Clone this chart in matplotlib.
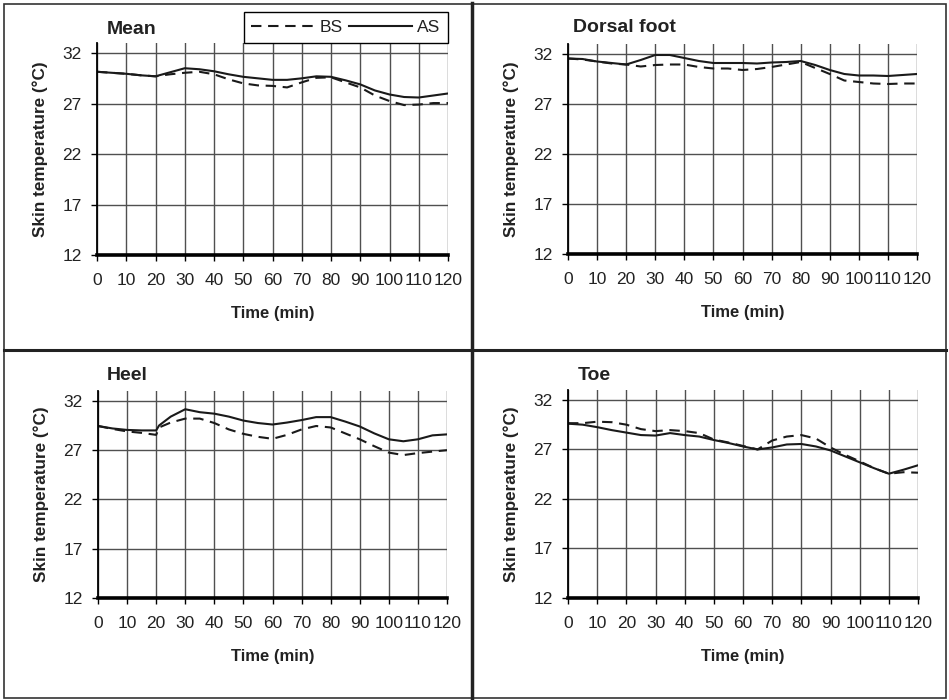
import matplotlib
matplotlib.use("Agg")
import matplotlib.pyplot as plt
from matplotlib.lines import Line2D
from matplotlib.patches import Rectangle

plt.rcParams['font.family'] = ['Liberation Sans', 'DejaVu Sans']

# ---------------- data ----------------
time = [0, 5, 10, 15, 20, 25, 30, 35, 40, 45, 50, 55, 60, 65, 70, 75, 80, 85, 90, 95, 100, 105, 110, 115, 120]
time_heel = [0, 5, 10, 15, 20, 21, 25, 30, 35, 40, 45, 50, 55, 60, 65, 70, 75, 80, 85, 90, 95, 100, 105, 110, 115, 120]

mean_as = [30.15, 30.05, 29.95, 29.8, 29.7, 30.1, 30.5, 30.4, 30.2, 29.9, 29.65, 29.5, 29.35, 29.35, 29.5, 29.7, 29.65, 29.3, 28.9, 28.3, 27.9, 27.65, 27.6, 27.8, 28.0]
mean_bs = [30.15, 30.05, 29.95, 29.8, 29.7, 29.9, 30.05, 30.15, 29.9, 29.4, 29.0, 28.8, 28.75, 28.6, 29.1, 29.55, 29.6, 29.1, 28.6, 27.8, 27.25, 26.85, 26.9, 27.05, 27.05]

dorsal_as = [31.55, 31.5, 31.25, 31.1, 30.95, 31.4, 31.9, 31.9, 31.6, 31.3, 31.1, 31.1, 31.1, 31.05, 31.15, 31.2, 31.3, 30.9, 30.4, 30.0, 29.85, 29.85, 29.8, 29.9, 30.0]
dorsal_bs = [31.55, 31.45, 31.25, 31.05, 30.95, 30.75, 30.9, 30.95, 30.95, 30.7, 30.55, 30.55, 30.4, 30.5, 30.7, 30.95, 31.2, 30.6, 30.0, 29.35, 29.2, 29.05, 29.0, 29.05, 29.05]

heel_as = [29.45, 29.2, 29.05, 29.0, 29.0, 29.5, 30.4, 31.15, 30.85, 30.7, 30.4, 30.0, 29.75, 29.6, 29.8, 30.05, 30.35, 30.35, 29.9, 29.4, 28.7, 28.1, 27.9, 28.1, 28.5, 28.6]
heel_bs = [29.45, 29.15, 28.9, 28.75, 28.55, 29.3, 29.8, 30.2, 30.2, 29.75, 29.1, 28.65, 28.35, 28.15, 28.55, 29.1, 29.45, 29.3, 28.7, 28.1, 27.4, 26.75, 26.5, 26.7, 26.85, 27.0]

toe_as = [29.6, 29.5, 29.25, 28.95, 28.7, 28.45, 28.4, 28.65, 28.45, 28.3, 27.95, 27.65, 27.3, 27.0, 27.2, 27.5, 27.55, 27.3, 26.9, 26.3, 25.7, 25.1, 24.55, 24.95, 25.4]
toe_bs = [29.65, 29.65, 29.8, 29.75, 29.5, 29.05, 28.85, 28.95, 28.85, 28.65, 28.0, 27.7, 27.35, 27.0, 27.9, 28.3, 28.45, 28.1, 27.2, 26.45, 25.8, 25.1, 24.55, 24.7, 24.65]

panel_titles = ["Mean", "Dorsal foot", "Heel", "Toe"]
series_labels = ["BS", "AS"]
x_ticks = list(range(0, 121, 10))
y_ticks = [12, 17, 22, 27, 32]
x_label = "Time (min)"
y_label = "Skin temperature (\u00b0C)"

# ---------------- layout ----------------
W, H = 949, 700
fig = plt.figure(figsize=(W / 100, H / 100), dpi=100)
fig.patch.set_facecolor('white')

# axes boxes in pixel coords: left, right, y of bottom (12), y of top (33)
boxes = [(97, 448, 255, 43), (568, 917, 254, 44), (98, 447, 598, 391), (568, 918, 598, 390)]
title_pos = [(107, 30), (573, 27), (107, 375), (578, 376)]
panels = [
    (time, mean_bs, time, mean_as),
    (time, dorsal_bs, time, dorsal_as),
    (time_heel, heel_bs, time_heel, heel_as),
    (time, toe_bs, time, toe_as),
]

line_color = '#1a1a1a'
grid_color = '#505050'
handles = None
for (l, r, b, t), (tb, bs, ta, as_), title, (tx, ty) in zip(boxes, panels, panel_titles, title_pos):
    ax = fig.add_axes([l / W, 1 - b / H, (r - l) / W, (b - t) / H])
    h1, = ax.plot(tb, bs, color=line_color, lw=1.5, linestyle=(0, (5, 3.2)), label=series_labels[0])
    h2, = ax.plot(ta, as_, color=line_color, lw=1.5, linestyle='-', label=series_labels[1])
    handles = [h1, h2]
    ax.set_xlim(0, 120)
    ax.set_ylim(12, 33)
    ax.set_xticks(x_ticks)
    ax.set_yticks(y_ticks)
    ax.grid(True, color=grid_color, lw=1.0)
    ax.set_axisbelow(True)
    for s in ['top', 'right']:
        ax.spines[s].set_visible(False)
    ax.spines['left'].set_linewidth(1.3)
    ax.spines['bottom'].set_linewidth(2.6)
    ax.spines['left'].set_color('black')
    ax.spines['bottom'].set_color('black')
    ax.tick_params(axis='both', direction='out', length=4, width=1, color='black',
                   labelsize=12.5, labelcolor='#222222')
    ax.tick_params(axis='x', pad=9)
    ax.tick_params(axis='y', pad=7)
    ax.set_xlabel(x_label, fontsize=12, fontweight='bold', color='#222222', labelpad=13)
    ax.set_ylabel(y_label, fontsize=12.3, fontweight='bold', color='#222222', labelpad=10)
    fig.text(tx / W, 1 - ty / H, title, fontsize=14, fontweight='bold', color='#222222',
             ha='left', va='center')

leg = fig.legend(handles, series_labels, loc='upper right', bbox_to_anchor=(448 / W, 1 - 12 / H),
                 ncol=2, fontsize=12.5, frameon=True, fancybox=False, framealpha=1,
                 edgecolor='black', handlelength=3.6, handletextpad=0.3, columnspacing=0.4,
                 borderpad=0.45, borderaxespad=0)
leg.get_frame().set_linewidth(1.0)
for txt in leg.get_texts():
    txt.set_color('#222222')

# panel frames
fig.add_artist(Rectangle((4 / W, 2 / H), (W - 7) / W, (H - 6) / H, transform=fig.transFigure,
                         fill=False, edgecolor='#333333', lw=1.2))
fig.add_artist(Line2D([472 / W, 472 / W], [2 / H, 1 - 3 / H], transform=fig.transFigure,
                      color='#222222', lw=2.5))
fig.add_artist(Line2D([4 / W, 1 - 3 / W], [1 - 350 / H, 1 - 350 / H], transform=fig.transFigure,
                      color='#222222', lw=2.2))

fig.savefig('out.png', dpi=100, facecolor='white')
